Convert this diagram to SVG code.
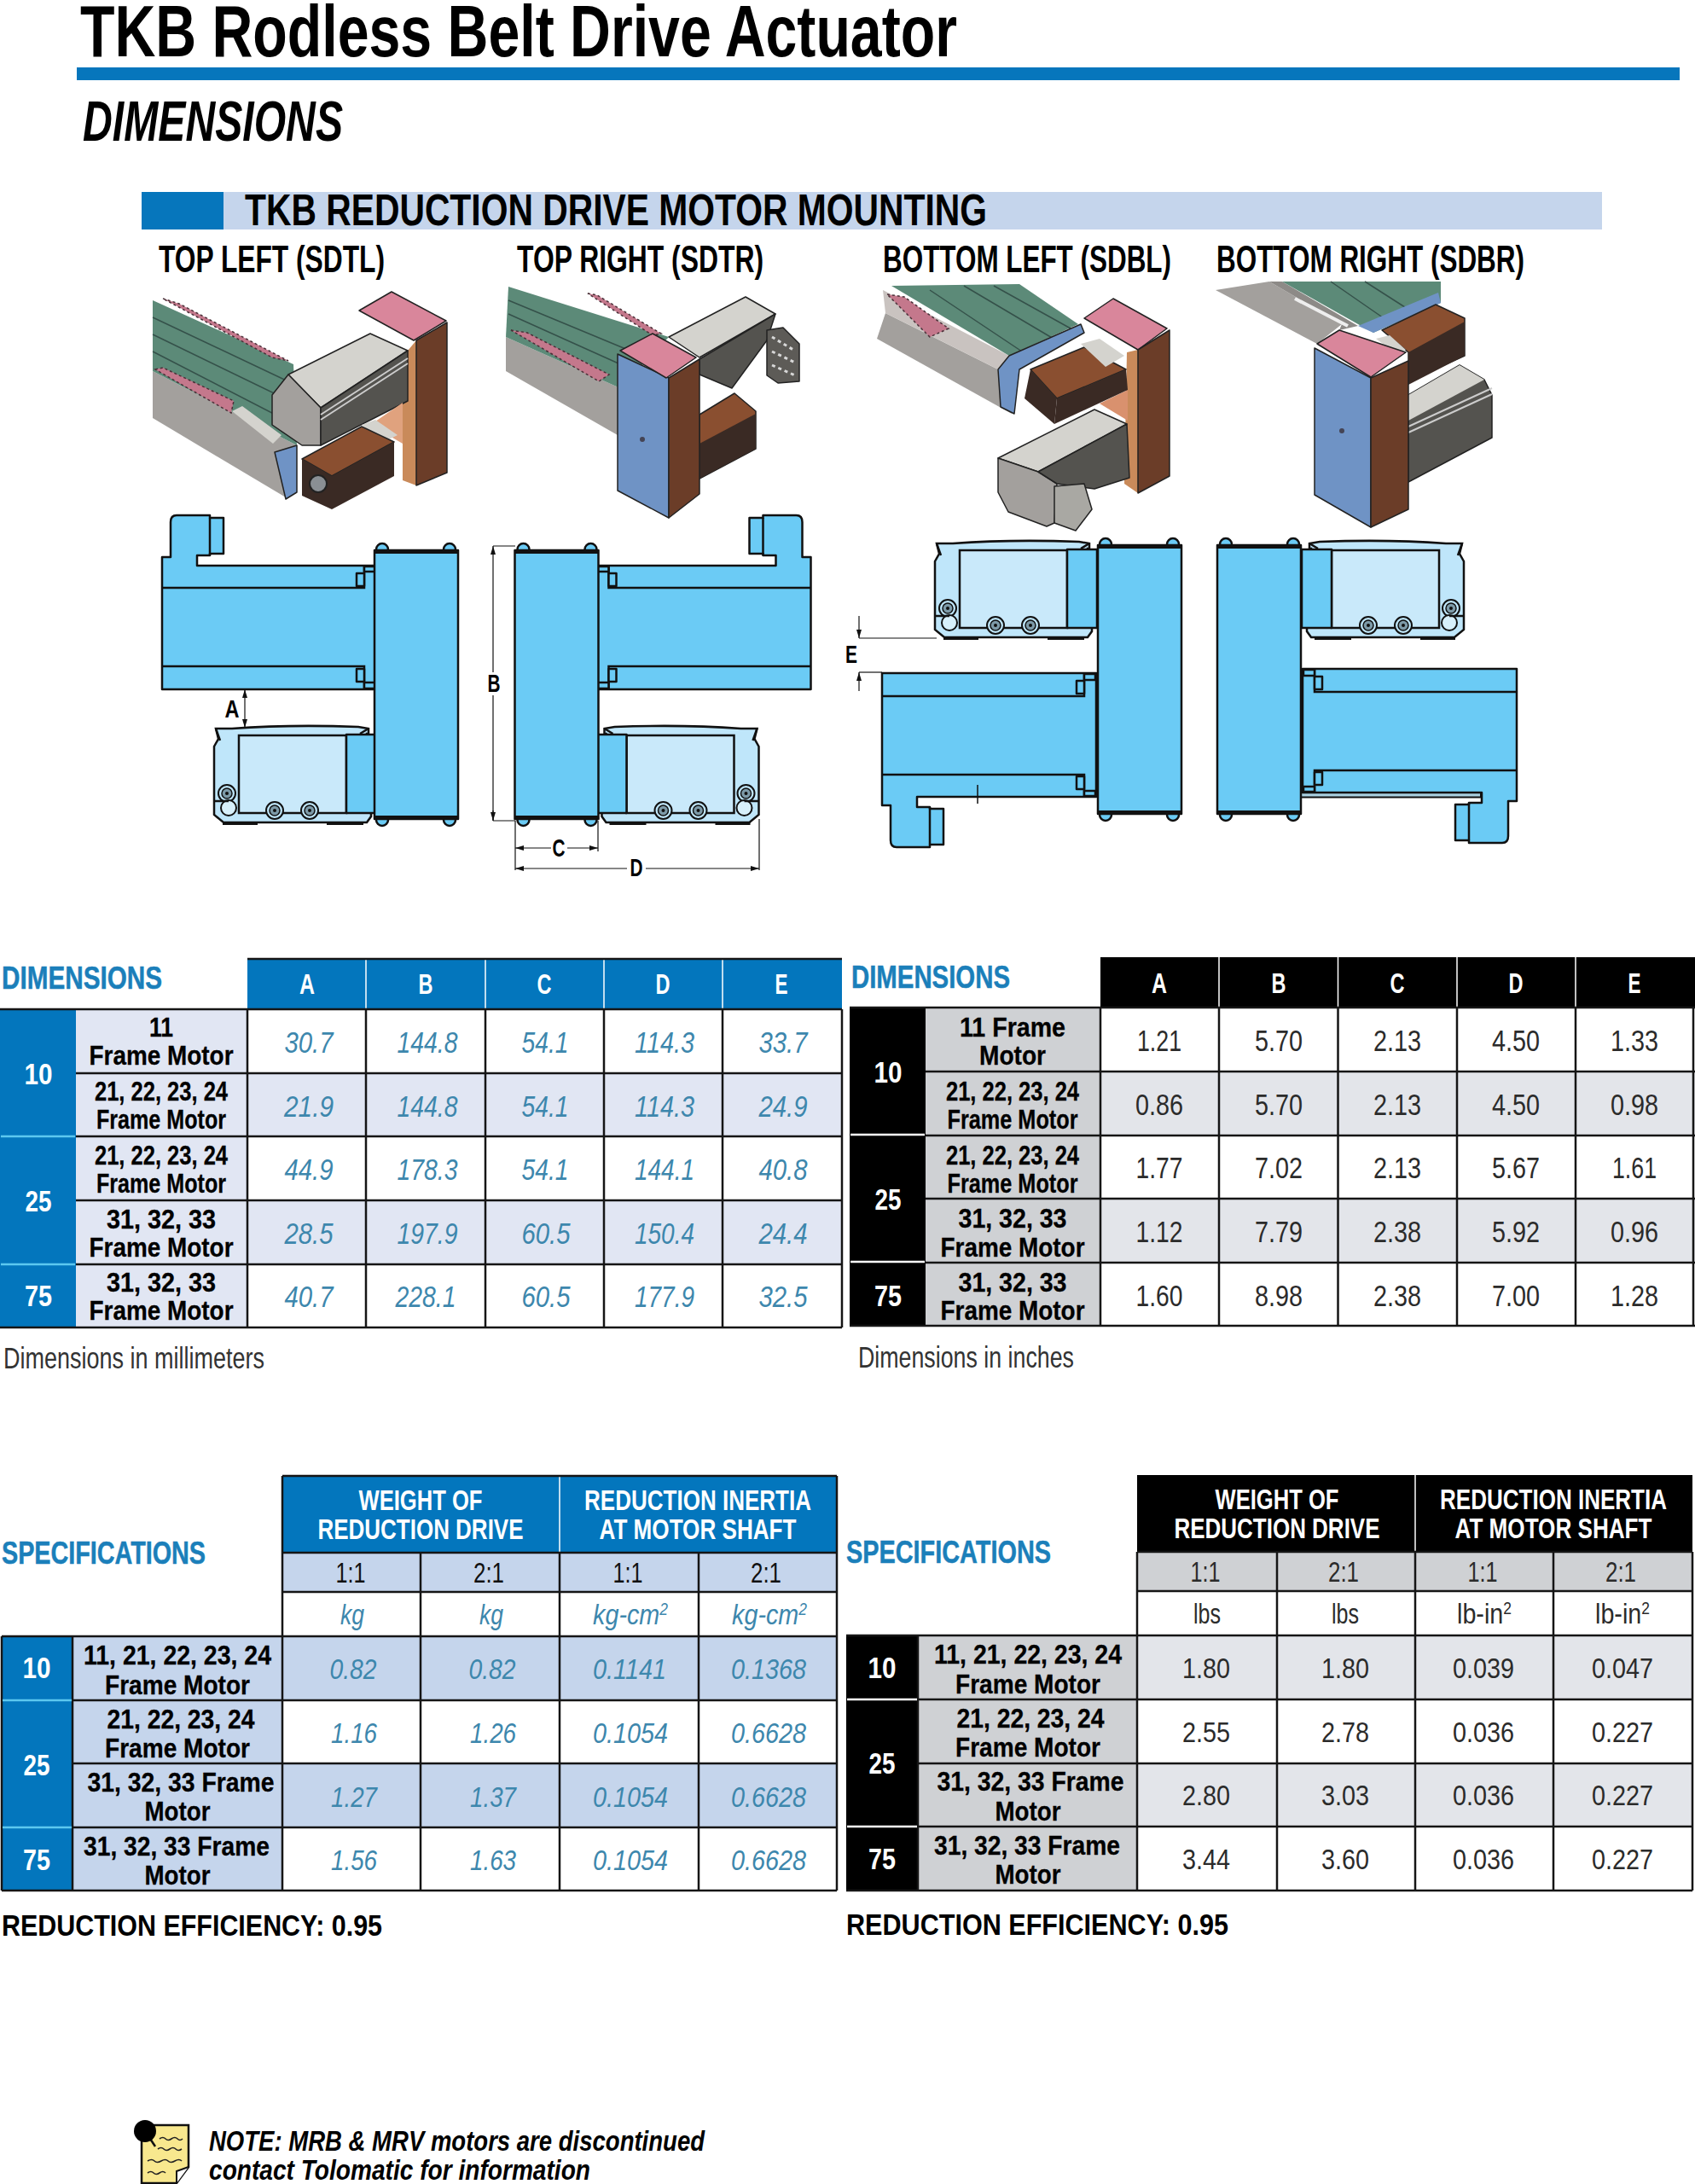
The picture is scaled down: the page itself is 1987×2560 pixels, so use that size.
<svg xmlns="http://www.w3.org/2000/svg" width="1987" height="2560" viewBox="0 0 1987 2560">
<style>
text{font-family:"Liberation Sans Narrow","Liberation Sans",Arial,sans-serif;text-anchor:middle}
.s{text-anchor:start}
.b{font-weight:700}
.h{font-weight:700;font-size:33px;fill:#fff}
.c{font-weight:700;font-size:32px;fill:#000;stroke:#000;stroke-width:.3}
.l{font-weight:700;font-size:35px;fill:#fff}
.n{font-style:italic;font-size:35px;fill:#3d87ad}
.k{font-size:35px;fill:#2b2b2b}
.r{font-size:33px;fill:#111}
.u{font-style:italic;font-size:33px;fill:#3d87ad}
.v{font-size:33px;fill:#2b2b2b}
.hd{font-weight:700;font-size:36px;fill:#1b7fba;stroke:#1b7fba;stroke-width:.5}
.lb{font-weight:700;font-size:45px;fill:#000}
.blue{fill:#0376bd}.pale{fill:#e1e6f3}.pb{fill:#c5d5ec}.blk{fill:#000}.gr{fill:#cfd1d4}.pg{fill:#e3e5ea}
.grid{fill:none;stroke:#151515;stroke-width:2.5}
.wl{fill:none;stroke:#fff;stroke-width:1.5}
.sep{fill:none;stroke:#5cc8f0;stroke-width:2.5}
.sw{fill:none;stroke:#fff;stroke-width:2.5}
.cad{fill:#6bcbf5;stroke:#111;stroke-width:2.5;stroke-linejoin:round}
.cl{fill:none;stroke:#111;stroke-width:2.5}
.lm{fill:#bfe6fa;stroke:#111;stroke-width:2.5}
.win{fill:#c9e9fa;stroke:#111;stroke-width:2.5}
.dim{fill:none;stroke:#111;stroke-width:1.2}
.dl{font-weight:700;font-size:30px;fill:#000}
.gt{fill:#5c8a78}.gs{fill:#a3a09d}.lg{fill:#d4d3ce}.dg{fill:#54534f}.pk{fill:#d9869b}.bn{fill:#6b3d28}.or{fill:#c98a5a}.dk{fill:#3a2a24}.bp{fill:#6f93c5}.mb{fill:#8a4f30}
.e{stroke:#222;stroke-width:1.5;stroke-linejoin:round}
.st{fill:none;stroke:#35514a;stroke-width:1.5}
.ps{fill:#c4788c;stroke:#4a3038;stroke-width:1.5;stroke-dasharray:3 3}
.sq{fill:none;stroke:#222;stroke-width:1.6}
</style>
<defs>
<marker id="ar" viewBox="0 0 10 6" refX="10" refY="3" markerWidth="10" markerHeight="6" orient="auto-start-reverse" markerUnits="userSpaceOnUse"><path d="M0 0L10 3L0 6Z" fill="#111"/></marker>
<g id="plate">
<circle class="cad" cx="448" cy="644" r="7"/><circle class="cad" cx="527" cy="644" r="7"/><circle class="cad" cx="448" cy="961" r="7"/><circle class="cad" cx="527" cy="961" r="7"/>
<rect class="cad" x="439" y="645" width="98" height="315"/>
<path d="M439 647H537M439 958H537" fill="none" stroke="#111" stroke-width="4"/>
</g>
<g id="body">
<path class="cad" d="M190 808V653H200V612Q200 604 207 604H246V607H262V649H246V651H231V663H441V808Z"/>
<path class="cl" d="M246 607V651M190 689H427V663M190 781H427V808"/>
<path class="cad" d="M418 672h9v15h-9zM418 784h9v15h-9zM427 664h13v6h-13zM427 800h13v7h-13z"/>
</g>
<g id="screw"><circle r="10" fill="#bfe6fa" stroke="#111" stroke-width="2"/><circle r="6" fill="#7d9aa8" stroke="#111" stroke-width="1.5"/><circle r="2" fill="#111"/></g>
<g id="lmotor">
<path class="lm" d="M253 854H272Q340 849 420 852L432 854V860H430L435 953V957L430 964H262L251 955V875L256 866Z"/>
<path class="cl" d="M253 854L258 868M432 854L422 860"/>
<rect class="win" x="280" y="862" width="126" height="91"/>
<rect class="cad" x="406" y="861" width="35" height="92"/>
<use href="#screw" x="322" y="950"/><use href="#screw" x="363" y="950"/><use href="#screw" x="266" y="930"/>
<circle cx="268" cy="947" r="9" fill="#d7f0fb" stroke="#111" stroke-width="2"/>
<path class="cl" d="M251 939H268"/>
<path d="M261 965H302M383 965H426" fill="none" stroke="#111" stroke-width="4"/>
</g>
</defs>

<g id="title">
<text class="b s" x="94" y="66" font-size="86" textLength="1028" lengthAdjust="spacingAndGlyphs">TKB Rodless Belt Drive Actuator</text>
<rect x="90" y="79" width="1879" height="15" fill="#0676bc"/>
<text class="b s" x="97" y="165" font-size="66" font-style="italic" textLength="305" lengthAdjust="spacingAndGlyphs">DIMENSIONS</text>
</g>

<g id="section-bar">
<rect x="166" y="225" width="1712" height="44" fill="#c5d5ec"/>
<rect x="166" y="225" width="96" height="44" fill="#0676bc"/>
<text class="b s" x="287" y="264" font-size="52" textLength="870" lengthAdjust="spacingAndGlyphs">TKB REDUCTION DRIVE MOTOR MOUNTING</text>
</g>

<g id="mount-labels">
<text class="lb s" x="186" y="319" textLength="265" lengthAdjust="spacingAndGlyphs">TOP LEFT (SDTL)</text>
<text class="lb s" x="606" y="319" textLength="289" lengthAdjust="spacingAndGlyphs">TOP RIGHT (SDTR)</text>
<text class="lb s" x="1035" y="319" textLength="338" lengthAdjust="spacingAndGlyphs">BOTTOM LEFT (SDBL)</text>
<text class="lb s" x="1426" y="319" textLength="361" lengthAdjust="spacingAndGlyphs">BOTTOM RIGHT (SDBR)</text>
</g>

<g id="iso-top-left">
<polygon class="gs" points="179,435 348,522 335,583 179,490"/>
<polygon class="gt" points="179,352 344,427 348,522 179,435"/>
<path class="st" d="M179 372L344 450M179 392L344 472M179 412L344 497"/>
<polygon class="ps" points="191,350 210,356 338,423 319,419"/>
<polygon class="ps" points="182,433 191,431 274,470 271,484"/>
<polygon class="lg" points="272,482 284,476 330,510 320,520"/>
<polygon class="bp e" points="322,530 348,522 348,577 335,585"/>
<polygon class="or" points="478,411 488,399 488,569 472,563 472,474"/>
<polygon class="lg e" points="338,439 434,391 478,411 376,478"/>
<polygon class="gs e" points="319,463 338,439 376,478 376,522 354,522 319,498"/>
<polygon class="dg e" points="376,478 478,411 478,470 376,522"/>
<path d="M376 486L478 420M376 492L478 426" fill="none" stroke="#ccc" stroke-width="2"/>
<polygon class="pk e" points="421,364 459,342 523,376 485,399"/>
<polygon class="bn e" points="488,399 524,378 524,554 488,569"/>
<polygon fill="#e0a27e" points="440,494 472,472 472,520 455,510"/>
<polygon class="lg" points="424,498 440,492 466,510 450,518"/>
<polygon class="mb e" points="354,538 424,500 462,518 389,558"/>
<polygon class="dk" points="354,538 389,558 389,597 354,581"/>
<polygon class="dk" points="389,558 462,518 462,558 389,597"/>
<circle cx="373" cy="567" r="10" fill="#8a8f94" stroke="#222" stroke-width="2"/>
</g>

<g id="iso-top-right">
<polygon class="gs" points="593,395 727,455 724,510 593,435"/>
<polygon class="gt" points="596,336 784,395 727,455 593,395"/>
<path class="st" d="M596 352L760 420M596 368L745 435"/>
<polygon class="ps" points="689,344 700,346 775,391 765,393"/>
<polygon class="ps" points="599,387 618,390 714,439 702,447"/>
<polygon class="lg e" points="784,395 874,348 909,368 820,419"/>
<polygon class="dg e" points="820,421 909,368 899,399 858,455 820,439"/>
<polygon fill="#5d5b57" class="e" points="899,387 918,384 937,403 937,447 912,449 899,440"/>
<path d="M905 395L930 410M905 412L932 425M905 428L932 440" fill="none" stroke="#d8d8d8" stroke-width="3" stroke-dasharray="4 4"/>
<polygon class="mb e" points="820,486 861,461 886,482 886,526 820,561"/>
<polygon class="dk" points="820,520 886,485 886,526 820,561"/>
<polygon class="bp e" points="724,415 784,443 784,607 724,575"/>
<polygon class="pk e" points="727,411 765,391 816,419 781,443"/>
<polygon class="bn e" points="784,443 820,421 820,579 784,607"/>
<circle cx="753" cy="515" r="3" fill="#445"/>
</g>

<g id="iso-bottom-left">
<polygon class="gs" points="1028,397 1038,367 1170,433 1186,485"/>
<polygon fill="#c9c3c0" points="1035,340 1183,417 1170,433 1038,367"/>
<polygon class="gt" points="1045,335 1195,333 1264,380 1183,417"/>
<path class="st" d="M1090 340L1210 420M1130 335L1240 400M1165 335L1255 385"/>
<polygon class="ps" points="1040,345 1060,348 1112,385 1090,395"/>
<polygon class="bp e" points="1170,433 1183,417 1267,380 1271,390 1195,433 1189,485 1173,477"/>
<polygon class="or" points="1321,413 1334,410 1334,578 1318,567"/>
<polygon fill="#d9916e" points="1289,473 1322,457 1322,493"/>
<polygon class="pk e" points="1271,373 1305,350 1368,385 1334,410"/>
<polygon class="bn e" points="1334,410 1371,387 1371,558 1334,578"/>
<polygon class="mb e" points="1208,433 1271,407 1320,433 1239,467"/>
<polygon class="dk" points="1201,467 1208,433 1239,467 1236,497"/>
<polygon class="dk" points="1239,467 1320,433 1322,457 1236,497"/>
<polygon class="lg" points="1267,403 1289,397 1318,417 1296,430"/>
<polygon class="lg e" points="1170,537 1283,480 1321,497 1217,553"/>
<polygon class="gs e" points="1170,537 1217,553 1239,567 1236,613 1227,617 1182,600 1170,577"/>
<polygon class="dg e" points="1217,553 1321,497 1324,560 1283,573 1239,567"/>
<polygon fill="#a9a8a3" class="e" points="1236,570 1271,567 1280,597 1261,622 1236,613"/>
</g>

<g id="iso-bottom-right">
<polygon class="gs" points="1425,340 1488,330 1573,380 1544,403"/>
<polygon fill="#8d8a87" points="1488,330 1503,330 1592,382 1570,387 1573,380"/>
<path d="M1518 350L1580 382" fill="none" stroke="#eee" stroke-width="4"/>
<polygon class="gt" points="1503,330 1689,330 1689,355 1610,390 1592,380"/>
<path class="st" d="M1560 330L1625 375M1600 330L1650 362"/>
<polygon class="bp" points="1592,382 1686,343 1689,355 1610,390"/>
<polygon class="mb e" points="1620,387 1683,357 1717,373 1717,417 1651,447 1651,413"/>
<polygon class="dk" points="1651,413 1717,377 1717,417 1651,451"/>
<polygon class="lg" points="1613,397 1629,393 1648,410 1636,414"/>
<polygon class="dg e" points="1651,463 1711,428 1740,445 1749,463 1749,513 1651,565"/>
<polygon class="lg" points="1651,463 1711,428 1740,445 1651,493"/>
<path d="M1651 500L1749 455M1651 507L1749 462" fill="none" stroke="#ccc" stroke-width="2"/>
<polygon class="bp e" points="1541,408 1607,443 1607,618 1541,580"/>
<polygon class="pk e" points="1544,403 1570,387 1648,413 1607,442"/>
<polygon class="bn e" points="1607,443 1651,423 1651,597 1607,618"/>
<circle cx="1573" cy="505" r="3" fill="#445"/>
</g>

<g id="cad-top-left">
<use href="#body"/><use href="#lmotor"/><use href="#plate"/>
</g>
<g id="cad-top-right" transform="translate(1140.5,0) scale(-1,1)">
<use href="#body"/><use href="#lmotor"/><use href="#plate"/>
</g>
<g id="cad-bottom-left">
<use href="#body" transform="translate(844,1597) scale(1,-1)"/>
<path d="M1146 920V942" fill="none" stroke="#111" stroke-width="1.5"/>
<use href="#lmotor" transform="translate(845,-217)"/>
<use href="#plate" transform="translate(848,-6)"/>
</g>
<g id="cad-bottom-right" transform="translate(2812,0) scale(-1,1)">
<rect x="1076" y="929" width="212" height="5.500" fill="#a9cfe0" stroke="#111" stroke-width="2"/>
<use href="#body" transform="translate(844,1592) scale(1,-1)"/>
<use href="#lmotor" transform="translate(845,-217)"/>
<use href="#plate" transform="translate(848,-6)"/>
</g>

<g id="connectors">
<path class="dim" d="M287 808V853" marker-start="url(#ar)" marker-end="url(#ar)"/>
<path class="dim" d="M578 640V788M578 815V962" marker-start="url(#ar)"/>
<path class="dim" d="M578 962V950" marker-start="url(#ar)"/>
<path class="dim" d="M578 640H604M578 962H604M604 962V1020M701 962V998M890 960V1020"/>
<path class="dim" d="M604 994H646" marker-start="url(#ar)"/>
<path class="dim" d="M701 994H665" marker-start="url(#ar)"/>
<path class="dim" d="M604 1018H735" marker-start="url(#ar)"/>
<path class="dim" d="M890 1018H757" marker-start="url(#ar)"/>
<path class="dim" d="M1007 722V748" marker-end="url(#ar)"/>
<path class="dim" d="M1007 748H1098"/>
<path class="dim" d="M1007 810V788" marker-end="url(#ar)"/>
<path class="dim" d="M1007 788H1034"/>
</g>
<g id="dim-labels">
<text class="dl" x="272" y="841" textLength="17" lengthAdjust="spacingAndGlyphs">A</text>
<text class="dl" x="579" y="811" textLength="15" lengthAdjust="spacingAndGlyphs">B</text>
<text class="dl" x="655" y="1004" textLength="15" lengthAdjust="spacingAndGlyphs">C</text>
<text class="dl" x="746" y="1027" textLength="15" lengthAdjust="spacingAndGlyphs">D</text>
<text class="dl" x="998" y="777" textLength="14" lengthAdjust="spacingAndGlyphs">E</text>
</g>

<g id="table-dimensions-mm">
<text class="hd s" x="2" y="1159" textLength="188" lengthAdjust="spacingAndGlyphs">DIMENSIONS</text>
<rect class="blue" x="290" y="1124" width="697" height="59"/>
<rect class="blue" x="0" y="1183" width="89" height="373"/>
<rect class="pale" x="89" y="1183" width="201" height="373"/>
<rect class="pale" x="290" y="1258" width="697" height="74"/>
<rect class="pale" x="290" y="1407" width="697" height="75"/>
<path class="wl" d="M429 1124V1183M569 1124V1183M708 1124V1183M847 1124V1183"/>
<path class="grid" d="M290 1124H987M0 1183H987M89 1258H987M89 1332H987M89 1407H987M89 1482H987M0 1556H987M290 1183V1556M429 1183V1556M569 1183V1556M708 1183V1556M847 1183V1556M987 1183V1556"/>
<path class="sep" d="M1 1332H88M1 1482H88"/>
<text class="h" x="360" y="1165" textLength="18" lengthAdjust="spacingAndGlyphs">A</text>
<text class="h" x="499" y="1165" textLength="17" lengthAdjust="spacingAndGlyphs">B</text>
<text class="h" x="638" y="1165" textLength="17" lengthAdjust="spacingAndGlyphs">C</text>
<text class="h" x="777" y="1165" textLength="17" lengthAdjust="spacingAndGlyphs">D</text>
<text class="h" x="916" y="1165" textLength="15" lengthAdjust="spacingAndGlyphs">E</text>
<text class="l" x="45" y="1271" textLength="33" lengthAdjust="spacingAndGlyphs">10</text>
<text class="l" x="45" y="1420" textLength="31" lengthAdjust="spacingAndGlyphs">25</text>
<text class="l" x="45" y="1531" textLength="32" lengthAdjust="spacingAndGlyphs">75</text>
<text class="c" x="189" y="1215" textLength="28" lengthAdjust="spacingAndGlyphs">11</text>
<text class="c" x="189" y="1248" textLength="169" lengthAdjust="spacingAndGlyphs">Frame Motor</text>
<text class="c" x="189" y="1290" textLength="156" lengthAdjust="spacingAndGlyphs">21, 22, 23, 24</text>
<text class="c" x="189" y="1323" textLength="152" lengthAdjust="spacingAndGlyphs">Frame Motor</text>
<text class="c" x="189" y="1365" textLength="156" lengthAdjust="spacingAndGlyphs">21, 22, 23, 24</text>
<text class="c" x="189" y="1398" textLength="152" lengthAdjust="spacingAndGlyphs">Frame Motor</text>
<text class="c" x="189" y="1440" textLength="128" lengthAdjust="spacingAndGlyphs">31, 32, 33</text>
<text class="c" x="189" y="1473" textLength="169" lengthAdjust="spacingAndGlyphs">Frame Motor</text>
<text class="c" x="189" y="1514" textLength="128" lengthAdjust="spacingAndGlyphs">31, 32, 33</text>
<text class="c" x="189" y="1547" textLength="169" lengthAdjust="spacingAndGlyphs">Frame Motor</text>
<text class="n" x="362" y="1234" textLength="57" lengthAdjust="spacingAndGlyphs">30.7</text>
<text class="n" x="501" y="1234" textLength="71" lengthAdjust="spacingAndGlyphs">144.8</text>
<text class="n" x="639" y="1234" textLength="55" lengthAdjust="spacingAndGlyphs">54.1</text>
<text class="n" x="779" y="1234" textLength="70" lengthAdjust="spacingAndGlyphs">114.3</text>
<text class="n" x="918" y="1234" textLength="57" lengthAdjust="spacingAndGlyphs">33.7</text>
<text class="n" x="362" y="1309" textLength="58" lengthAdjust="spacingAndGlyphs">21.9</text>
<text class="n" x="501" y="1309" textLength="71" lengthAdjust="spacingAndGlyphs">144.8</text>
<text class="n" x="639" y="1309" textLength="55" lengthAdjust="spacingAndGlyphs">54.1</text>
<text class="n" x="779" y="1309" textLength="70" lengthAdjust="spacingAndGlyphs">114.3</text>
<text class="n" x="918" y="1309" textLength="57" lengthAdjust="spacingAndGlyphs">24.9</text>
<text class="n" x="362" y="1383" textLength="57" lengthAdjust="spacingAndGlyphs">44.9</text>
<text class="n" x="501" y="1383" textLength="71" lengthAdjust="spacingAndGlyphs">178.3</text>
<text class="n" x="639" y="1383" textLength="55" lengthAdjust="spacingAndGlyphs">54.1</text>
<text class="n" x="779" y="1383" textLength="70" lengthAdjust="spacingAndGlyphs">144.1</text>
<text class="n" x="918" y="1383" textLength="57" lengthAdjust="spacingAndGlyphs">40.8</text>
<text class="n" x="362" y="1458" textLength="57" lengthAdjust="spacingAndGlyphs">28.5</text>
<text class="n" x="501" y="1458" textLength="71" lengthAdjust="spacingAndGlyphs">197.9</text>
<text class="n" x="640" y="1458" textLength="57" lengthAdjust="spacingAndGlyphs">60.5</text>
<text class="n" x="779" y="1458" textLength="70" lengthAdjust="spacingAndGlyphs">150.4</text>
<text class="n" x="918" y="1458" textLength="57" lengthAdjust="spacingAndGlyphs">24.4</text>
<text class="n" x="362" y="1532" textLength="57" lengthAdjust="spacingAndGlyphs">40.7</text>
<text class="n" x="499" y="1532" textLength="71" lengthAdjust="spacingAndGlyphs">228.1</text>
<text class="n" x="640" y="1532" textLength="57" lengthAdjust="spacingAndGlyphs">60.5</text>
<text class="n" x="779" y="1532" textLength="70" lengthAdjust="spacingAndGlyphs">177.9</text>
<text class="n" x="918" y="1532" textLength="57" lengthAdjust="spacingAndGlyphs">32.5</text>
<text class="s" x="4" y="1604" font-size="35" fill="#333" textLength="306" lengthAdjust="spacingAndGlyphs">Dimensions in millimeters</text>
</g>

<g id="table-dimensions-in">
<text class="hd s" x="998" y="1158" textLength="186" lengthAdjust="spacingAndGlyphs">DIMENSIONS</text>
<rect class="blk" x="1290" y="1122" width="697" height="59"/>
<rect class="blk" x="996" y="1181" width="89" height="373"/>
<rect class="gr" x="1085" y="1181" width="205" height="373"/>
<rect class="pg" x="1290" y="1256" width="697" height="75"/>
<rect class="pg" x="1290" y="1405" width="697" height="75"/>
<path class="wl" d="M1429 1122V1181M1568.500 1122V1181M1708 1122V1181M1847 1122V1181"/>
<path class="grid" d="M996 1181H1987M1085 1256H1987M1085 1331H1987M1085 1405H1987M1085 1480H1987M996 1554H1987M1290 1181V1554M1429 1181V1554M1568.500 1181V1554M1708 1181V1554M1847 1181V1554M1985 1181V1554"/>
<path class="sw" d="M997 1330H1084M997 1479H1084"/>
<text class="h" x="1359" y="1164" textLength="18" lengthAdjust="spacingAndGlyphs">A</text>
<text class="h" x="1499" y="1164" textLength="17" lengthAdjust="spacingAndGlyphs">B</text>
<text class="h" x="1638" y="1164" textLength="17" lengthAdjust="spacingAndGlyphs">C</text>
<text class="h" x="1777" y="1164" textLength="17" lengthAdjust="spacingAndGlyphs">D</text>
<text class="h" x="1916" y="1164" textLength="15" lengthAdjust="spacingAndGlyphs">E</text>
<text class="l" x="1041" y="1269" textLength="33" lengthAdjust="spacingAndGlyphs">10</text>
<text class="l" x="1041" y="1418" textLength="31" lengthAdjust="spacingAndGlyphs">25</text>
<text class="l" x="1041" y="1531" textLength="32" lengthAdjust="spacingAndGlyphs">75</text>
<text class="c" x="1187" y="1215" textLength="124" lengthAdjust="spacingAndGlyphs">11 Frame</text>
<text class="c" x="1187" y="1248" textLength="78" lengthAdjust="spacingAndGlyphs">Motor</text>
<text class="c" x="1187" y="1290" textLength="156" lengthAdjust="spacingAndGlyphs">21, 22, 23, 24</text>
<text class="c" x="1187" y="1323" textLength="153" lengthAdjust="spacingAndGlyphs">Frame Motor</text>
<text class="c" x="1187" y="1365" textLength="156" lengthAdjust="spacingAndGlyphs">21, 22, 23, 24</text>
<text class="c" x="1187" y="1398" textLength="153" lengthAdjust="spacingAndGlyphs">Frame Motor</text>
<text class="c" x="1187" y="1439" textLength="127" lengthAdjust="spacingAndGlyphs">31, 32, 33</text>
<text class="c" x="1187" y="1473" textLength="169" lengthAdjust="spacingAndGlyphs">Frame Motor</text>
<text class="c" x="1187" y="1514" textLength="127" lengthAdjust="spacingAndGlyphs">31, 32, 33</text>
<text class="c" x="1187" y="1547" textLength="169" lengthAdjust="spacingAndGlyphs">Frame Motor</text>
<text class="k" x="1359" y="1232" textLength="52" lengthAdjust="spacingAndGlyphs">1.21</text>
<text class="k" x="1499" y="1232" textLength="56" lengthAdjust="spacingAndGlyphs">5.70</text>
<text class="k" x="1638" y="1232" textLength="56" lengthAdjust="spacingAndGlyphs">2.13</text>
<text class="k" x="1777" y="1232" textLength="56" lengthAdjust="spacingAndGlyphs">4.50</text>
<text class="k" x="1916" y="1232" textLength="56" lengthAdjust="spacingAndGlyphs">1.33</text>
<text class="k" x="1359" y="1307" textLength="56" lengthAdjust="spacingAndGlyphs">0.86</text>
<text class="k" x="1499" y="1307" textLength="56" lengthAdjust="spacingAndGlyphs">5.70</text>
<text class="k" x="1638" y="1307" textLength="56" lengthAdjust="spacingAndGlyphs">2.13</text>
<text class="k" x="1777" y="1307" textLength="56" lengthAdjust="spacingAndGlyphs">4.50</text>
<text class="k" x="1916" y="1307" textLength="56" lengthAdjust="spacingAndGlyphs">0.98</text>
<text class="k" x="1359" y="1381" textLength="55" lengthAdjust="spacingAndGlyphs">1.77</text>
<text class="k" x="1499" y="1381" textLength="56" lengthAdjust="spacingAndGlyphs">7.02</text>
<text class="k" x="1638" y="1381" textLength="56" lengthAdjust="spacingAndGlyphs">2.13</text>
<text class="k" x="1777" y="1381" textLength="56" lengthAdjust="spacingAndGlyphs">5.67</text>
<text class="k" x="1916" y="1381" textLength="52" lengthAdjust="spacingAndGlyphs">1.61</text>
<text class="k" x="1359" y="1456" textLength="55" lengthAdjust="spacingAndGlyphs">1.12</text>
<text class="k" x="1499" y="1456" textLength="56" lengthAdjust="spacingAndGlyphs">7.79</text>
<text class="k" x="1638" y="1456" textLength="56" lengthAdjust="spacingAndGlyphs">2.38</text>
<text class="k" x="1777" y="1456" textLength="56" lengthAdjust="spacingAndGlyphs">5.92</text>
<text class="k" x="1916" y="1456" textLength="56" lengthAdjust="spacingAndGlyphs">0.96</text>
<text class="k" x="1359" y="1531" textLength="55" lengthAdjust="spacingAndGlyphs">1.60</text>
<text class="k" x="1499" y="1531" textLength="56" lengthAdjust="spacingAndGlyphs">8.98</text>
<text class="k" x="1638" y="1531" textLength="56" lengthAdjust="spacingAndGlyphs">2.38</text>
<text class="k" x="1777" y="1531" textLength="56" lengthAdjust="spacingAndGlyphs">7.00</text>
<text class="k" x="1916" y="1531" textLength="56" lengthAdjust="spacingAndGlyphs">1.28</text>
<text class="s" x="1006" y="1603" font-size="35" fill="#333" textLength="253" lengthAdjust="spacingAndGlyphs">Dimensions in inches</text>
</g>

<g id="table-spec-metric">
<text class="hd s" x="2" y="1833" textLength="239" lengthAdjust="spacingAndGlyphs">SPECIFICATIONS</text>
<rect class="blue" x="331" y="1730" width="650" height="90"/>
<rect class="pb" x="331" y="1820" width="650" height="46"/>
<rect class="blue" x="2" y="1918" width="83" height="298"/>
<rect class="pb" x="85" y="1918" width="246" height="298"/>
<rect class="pb" x="331" y="1918" width="650" height="75"/>
<rect class="pb" x="331" y="2067" width="650" height="75"/>
<path class="wl" d="M656 1730V1820"/>
<path class="grid" d="M331 1730H981M331 1820H981M331 1866H981M2 1918H981M85 1993H981M85 2067H981M85 2142H981M2 2216H981M331 1730V2216M493 1820V2216M656 1820V2216M819 1820V2216M981 1730V2216M85 1918V2216M2 1918V2216"/>
<path class="sep" d="M3 1993H84M3 2142H84"/>
<text class="h" x="493" y="1770" textLength="145" lengthAdjust="spacingAndGlyphs">WEIGHT OF</text>
<text class="h" x="493" y="1804" textLength="241" lengthAdjust="spacingAndGlyphs">REDUCTION DRIVE</text>
<text class="h" x="818" y="1770" textLength="266" lengthAdjust="spacingAndGlyphs">REDUCTION INERTIA</text>
<text class="h" x="818" y="1804" textLength="231" lengthAdjust="spacingAndGlyphs">AT MOTOR SHAFT</text>
<text class="r" x="411" y="1855" textLength="35" lengthAdjust="spacingAndGlyphs">1:1</text>
<text class="r" x="573" y="1855" textLength="36" lengthAdjust="spacingAndGlyphs">2:1</text>
<text class="r" x="736" y="1855" textLength="35" lengthAdjust="spacingAndGlyphs">1:1</text>
<text class="r" x="898" y="1855" textLength="36" lengthAdjust="spacingAndGlyphs">2:1</text>
<text class="u" x="413" y="1904" textLength="28" lengthAdjust="spacingAndGlyphs">kg</text>
<text class="u" x="576" y="1904" textLength="28" lengthAdjust="spacingAndGlyphs">kg</text>
<text class="u" x="739" y="1904" textLength="88" lengthAdjust="spacingAndGlyphs">kg-cm<tspan dy="-11" font-size="20">2</tspan></text>
<text class="u" x="902" y="1904" textLength="88" lengthAdjust="spacingAndGlyphs">kg-cm<tspan dy="-11" font-size="20">2</tspan></text>
<text class="l" x="43" y="1967" textLength="33" lengthAdjust="spacingAndGlyphs">10</text>
<text class="l" x="43" y="2081" textLength="31" lengthAdjust="spacingAndGlyphs">25</text>
<text class="l" x="43" y="2192" textLength="32" lengthAdjust="spacingAndGlyphs">75</text>
<text class="c" x="208" y="1951" textLength="220" lengthAdjust="spacingAndGlyphs">11, 21, 22, 23, 24</text>
<text class="c" x="208" y="1986" textLength="170" lengthAdjust="spacingAndGlyphs">Frame Motor</text>
<text class="c" x="212" y="2026" textLength="173" lengthAdjust="spacingAndGlyphs">21, 22, 23, 24</text>
<text class="c" x="208" y="2060" textLength="170" lengthAdjust="spacingAndGlyphs">Frame Motor</text>
<text class="c" x="212" y="2100" textLength="219" lengthAdjust="spacingAndGlyphs">31, 32, 33 Frame</text>
<text class="c" x="208" y="2134" textLength="77" lengthAdjust="spacingAndGlyphs">Motor</text>
<text class="c" x="207" y="2175" textLength="218" lengthAdjust="spacingAndGlyphs">31, 32, 33 Frame</text>
<text class="c" x="208" y="2209" textLength="77" lengthAdjust="spacingAndGlyphs">Motor</text>
<text class="u" x="414" y="1968" textLength="55" lengthAdjust="spacingAndGlyphs">0.82</text>
<text class="u" x="577" y="1968" textLength="55" lengthAdjust="spacingAndGlyphs">0.82</text>
<text class="u" x="738" y="1968" textLength="86" lengthAdjust="spacingAndGlyphs">0.1141</text>
<text class="u" x="901" y="1968" textLength="88" lengthAdjust="spacingAndGlyphs">0.1368</text>
<text class="u" x="415" y="2043" textLength="54" lengthAdjust="spacingAndGlyphs">1.16</text>
<text class="u" x="578" y="2043" textLength="54" lengthAdjust="spacingAndGlyphs">1.26</text>
<text class="u" x="739" y="2043" textLength="88" lengthAdjust="spacingAndGlyphs">0.1054</text>
<text class="u" x="901" y="2043" textLength="88" lengthAdjust="spacingAndGlyphs">0.6628</text>
<text class="u" x="415" y="2118" textLength="54" lengthAdjust="spacingAndGlyphs">1.27</text>
<text class="u" x="578" y="2118" textLength="54" lengthAdjust="spacingAndGlyphs">1.37</text>
<text class="u" x="739" y="2118" textLength="88" lengthAdjust="spacingAndGlyphs">0.1054</text>
<text class="u" x="901" y="2118" textLength="88" lengthAdjust="spacingAndGlyphs">0.6628</text>
<text class="u" x="415" y="2192" textLength="54" lengthAdjust="spacingAndGlyphs">1.56</text>
<text class="u" x="578" y="2192" textLength="54" lengthAdjust="spacingAndGlyphs">1.63</text>
<text class="u" x="739" y="2192" textLength="88" lengthAdjust="spacingAndGlyphs">0.1054</text>
<text class="u" x="901" y="2192" textLength="88" lengthAdjust="spacingAndGlyphs">0.6628</text>
<text class="b s" x="2" y="2269" font-size="35" textLength="446" lengthAdjust="spacingAndGlyphs">REDUCTION EFFICIENCY: 0.95</text>
</g>

<g id="table-spec-imperial">
<text class="hd s" x="992" y="1832" textLength="240" lengthAdjust="spacingAndGlyphs">SPECIFICATIONS</text>
<rect class="blk" x="1333" y="1729" width="651" height="90"/>
<rect class="gr" x="1333" y="1819" width="651" height="46"/>
<rect class="blk" x="992" y="1917" width="84" height="299"/>
<rect class="gr" x="1076" y="1917" width="257" height="299"/>
<rect class="pg" x="1333" y="1917" width="651" height="75"/>
<rect class="pg" x="1333" y="2067" width="651" height="74"/>
<path class="wl" d="M1659 1729V1819"/>
<path class="grid" d="M1333 1819H1984M1333 1865H1984M992 1917H1984M1076 1992H1984M1076 2067H1984M1076 2141H1984M992 2216H1984M1333 1819V2216M1497 1819V2216M1659 1819V2216M1821 1819V2216M1984 1819V2216M1076 1917V2216"/>
<path class="sw" d="M993 1992H1075M993 2141H1075"/>
<text class="h" x="1497" y="1769" textLength="145" lengthAdjust="spacingAndGlyphs">WEIGHT OF</text>
<text class="h" x="1497" y="1803" textLength="241" lengthAdjust="spacingAndGlyphs">REDUCTION DRIVE</text>
<text class="h" x="1821" y="1769" textLength="266" lengthAdjust="spacingAndGlyphs">REDUCTION INERTIA</text>
<text class="h" x="1821" y="1803" textLength="231" lengthAdjust="spacingAndGlyphs">AT MOTOR SHAFT</text>
<text class="v" x="1413" y="1854" textLength="35" lengthAdjust="spacingAndGlyphs">1:1</text>
<text class="v" x="1575" y="1854" textLength="36" lengthAdjust="spacingAndGlyphs">2:1</text>
<text class="v" x="1738" y="1854" textLength="35" lengthAdjust="spacingAndGlyphs">1:1</text>
<text class="v" x="1900" y="1854" textLength="36" lengthAdjust="spacingAndGlyphs">2:1</text>
<text class="v" x="1415" y="1903" textLength="32" lengthAdjust="spacingAndGlyphs">lbs</text>
<text class="v" x="1577" y="1903" textLength="32" lengthAdjust="spacingAndGlyphs">lbs</text>
<text class="v" x="1740" y="1903" textLength="64" lengthAdjust="spacingAndGlyphs">lb-in<tspan dy="-11" font-size="20">2</tspan></text>
<text class="v" x="1902" y="1903" textLength="64" lengthAdjust="spacingAndGlyphs">lb-in<tspan dy="-11" font-size="20">2</tspan></text>
<text class="l" x="1034" y="1967" textLength="33" lengthAdjust="spacingAndGlyphs">10</text>
<text class="l" x="1034" y="2079" textLength="31" lengthAdjust="spacingAndGlyphs">25</text>
<text class="l" x="1034" y="2191" textLength="32" lengthAdjust="spacingAndGlyphs">75</text>
<text class="c" x="1205" y="1950" textLength="220" lengthAdjust="spacingAndGlyphs">11, 21, 22, 23, 24</text>
<text class="c" x="1205" y="1985" textLength="170" lengthAdjust="spacingAndGlyphs">Frame Motor</text>
<text class="c" x="1208" y="2025" textLength="173" lengthAdjust="spacingAndGlyphs">21, 22, 23, 24</text>
<text class="c" x="1205" y="2059" textLength="170" lengthAdjust="spacingAndGlyphs">Frame Motor</text>
<text class="c" x="1208" y="2099" textLength="219" lengthAdjust="spacingAndGlyphs">31, 32, 33 Frame</text>
<text class="c" x="1205" y="2134" textLength="77" lengthAdjust="spacingAndGlyphs">Motor</text>
<text class="c" x="1204" y="2174" textLength="218" lengthAdjust="spacingAndGlyphs">31, 32, 33 Frame</text>
<text class="c" x="1205" y="2208" textLength="77" lengthAdjust="spacingAndGlyphs">Motor</text>
<text class="v" x="1414" y="1967" textLength="56" lengthAdjust="spacingAndGlyphs">1.80</text>
<text class="v" x="1577" y="1967" textLength="56" lengthAdjust="spacingAndGlyphs">1.80</text>
<text class="v" x="1739" y="1967" textLength="72" lengthAdjust="spacingAndGlyphs">0.039</text>
<text class="v" x="1902" y="1967" textLength="72" lengthAdjust="spacingAndGlyphs">0.047</text>
<text class="v" x="1414" y="2042" textLength="56" lengthAdjust="spacingAndGlyphs">2.55</text>
<text class="v" x="1577" y="2042" textLength="56" lengthAdjust="spacingAndGlyphs">2.78</text>
<text class="v" x="1739" y="2042" textLength="72" lengthAdjust="spacingAndGlyphs">0.036</text>
<text class="v" x="1902" y="2042" textLength="72" lengthAdjust="spacingAndGlyphs">0.227</text>
<text class="v" x="1414" y="2116" textLength="56" lengthAdjust="spacingAndGlyphs">2.80</text>
<text class="v" x="1577" y="2116" textLength="56" lengthAdjust="spacingAndGlyphs">3.03</text>
<text class="v" x="1739" y="2116" textLength="72" lengthAdjust="spacingAndGlyphs">0.036</text>
<text class="v" x="1902" y="2116" textLength="72" lengthAdjust="spacingAndGlyphs">0.227</text>
<text class="v" x="1414" y="2191" textLength="56" lengthAdjust="spacingAndGlyphs">3.44</text>
<text class="v" x="1577" y="2191" textLength="56" lengthAdjust="spacingAndGlyphs">3.60</text>
<text class="v" x="1739" y="2191" textLength="72" lengthAdjust="spacingAndGlyphs">0.036</text>
<text class="v" x="1902" y="2191" textLength="72" lengthAdjust="spacingAndGlyphs">0.227</text>
<text class="b s" x="992" y="2267.500" font-size="35" textLength="448" lengthAdjust="spacingAndGlyphs">REDUCTION EFFICIENCY: 0.95</text>
</g>

<g id="note">
<path d="M166 2491H221V2540L207 2559H166Z" fill="#f8e88e" stroke="#111" stroke-width="2.500"/>
<path d="M207 2559V2545L221 2540" fill="#fff" stroke="#111" stroke-width="2"/>
<path class="sq" d="M187 2507q4-3 7 0t7 0t7 0t6 0M185 2519q4-3 7 0t7 0t7 0t7 0M173 2533q5-3 8 0t8 0t8 0t8 0t8 0M173 2547q4-3 7 0t7 0t7 0"/>
<path d="M170 2498L182 2516" stroke="#111" stroke-width="2.500"/>
<ellipse cx="170" cy="2498" rx="13" ry="13" fill="#000"/>
<text class="b s" x="245" y="2521" font-size="33" font-style="italic" textLength="581" lengthAdjust="spacingAndGlyphs">NOTE: MRB &amp; MRV motors are discontinued</text>
<text class="b s" x="245" y="2555" font-size="33" font-style="italic" textLength="447" lengthAdjust="spacingAndGlyphs">contact Tolomatic for information</text>
</g>
</svg>
